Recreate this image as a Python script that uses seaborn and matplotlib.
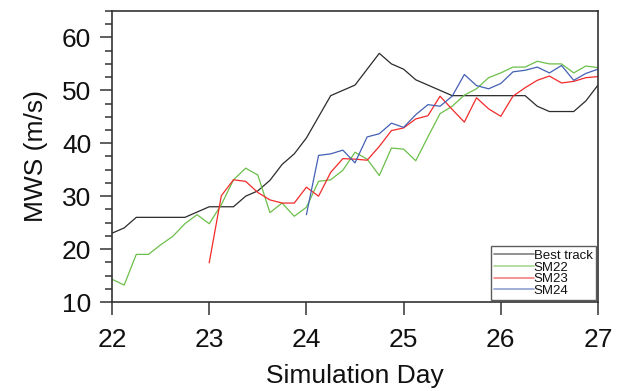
import numpy as np
import pandas as pd
import matplotlib
matplotlib.use("Agg")
import matplotlib.pyplot as plt
import seaborn as sns
from matplotlib.ticker import MultipleLocator

# ---- data (3-hourly, days 22..27) ----
days = [22 + i * 0.125 for i in range(41)]

best_track = [23, 24, 26, 26, 26, 26, 26, 27, 28, 28, 28, 30, 31, 33, 36, 38,
              41, 45, 49, 50, 51, 54, 57, 55, 54, 52, 51, 50, 49, 49, 49, 49,
              49, 49, 49, 47, 46, 46, 46, 48, 51]

sm22 = [14.3, 13.2, 19, 19, 20.8, 22.4, 24.8, 26.5, 24.8, 28.4, 33.1, 35.3, 34,
        26.9, 28.7, 26.2, 27.9, 32.8, 33.1, 34.9, 38.3, 37, 33.9, 39.1, 38.9,
        36.7, 41.2, 45.6, 47, 49.1, 50.3, 52.4, 53.3, 54.4, 54.4, 55.5, 55, 55,
        53.3, 54.6, 54.3]

sm23_days = days[8:]
sm23 = [17.4, 30.1, 33.1, 32.8, 30.7, 29.3, 28.7, 28.7, 31.7, 30, 34.5, 37.1,
        37, 36.8, 39.4, 42.4, 42.9, 44.6, 45.2, 48.9, 46.4, 44, 48.6, 46.5,
        45.1, 48.9, 50.5, 51.9, 52.7, 51.4, 51.7, 52.4, 52.6]

sm24_days = days[16:]
sm24 = [26.5, 37.7, 38, 38.7, 36.3, 41.2, 41.8, 43.8, 43, 45.4, 47.3, 47, 48.9,
        53, 50.9, 50.3, 51.3, 53.5, 53.8, 54.4, 53.3, 54.7, 51.9, 53.2, 54]

series_names = ["Best track", "SM22", "SM23", "SM24"]
colors = ["#2b2b2b", "#6cbf4a", "#f22a2a", "#4460b4"]

frames = [
    pd.DataFrame({"day": days, "mws": best_track, "run": "Best track"}),
    pd.DataFrame({"day": days, "mws": sm22, "run": "SM22"}),
    pd.DataFrame({"day": sm23_days, "mws": sm23, "run": "SM23"}),
    pd.DataFrame({"day": sm24_days, "mws": sm24, "run": "SM24"}),
]
df = pd.concat(frames, ignore_index=True)

sns.set_style("ticks")
plt.rcParams["font.family"] = ["Liberation Sans", "DejaVu Sans"]
plt.rcParams["text.color"] = "#111111"
plt.rcParams["axes.labelcolor"] = "#111111"
plt.rcParams["xtick.color"] = "#111111"
plt.rcParams["ytick.color"] = "#111111"

fig = plt.figure(figsize=(6.23, 3.91), dpi=100)
ax = fig.add_axes([112 / 623, 1 - 302 / 391, 486 / 623, 291 / 391])

sns.lineplot(data=df, x="day", y="mws", hue="run", hue_order=series_names,
             palette=colors, linewidth=0.9, ax=ax, legend=True)

ax.set_xlim(22, 27)
ax.set_ylim(10, 65)
ax.yaxis.set_major_locator(MultipleLocator(10))
ax.yaxis.set_minor_locator(MultipleLocator(2.5))
ax.set_xticks([22, 23, 24, 25, 26, 27])
ax.set_xticklabels(["22", "23", "24", "25", "26", "27"])

for s in ax.spines.values():
    s.set_visible(True)
    s.set_color("#333333")
    s.set_linewidth(1.2)

ax.tick_params(axis="both", which="major", direction="out", length=9,
               width=1.1, color="#333333", labelsize=19, pad=6,
               labelcolor="#111111")
ax.tick_params(axis="y", which="minor", direction="out", length=5,
               width=1.1, color="#333333")
ax.tick_params(axis="x", which="major", pad=10)

ax.set_xlabel("Simulation Day", fontsize=19, labelpad=8)
ax.set_ylabel("MWS (m/s)", fontsize=19, labelpad=10)

leg = ax.legend(loc="lower right", fontsize=9.5, frameon=True, fancybox=False,
                borderpad=0.25, labelspacing=-0.05, handlelength=3.0,
                handletextpad=0.0, borderaxespad=0.15)
leg.get_frame().set_edgecolor("#333333")
leg.get_frame().set_linewidth(1.0)
for line in leg.get_lines():
    line.set_linewidth(1.2)
    line.set_alpha(0.6)

fig.savefig("out.png", dpi=100)
